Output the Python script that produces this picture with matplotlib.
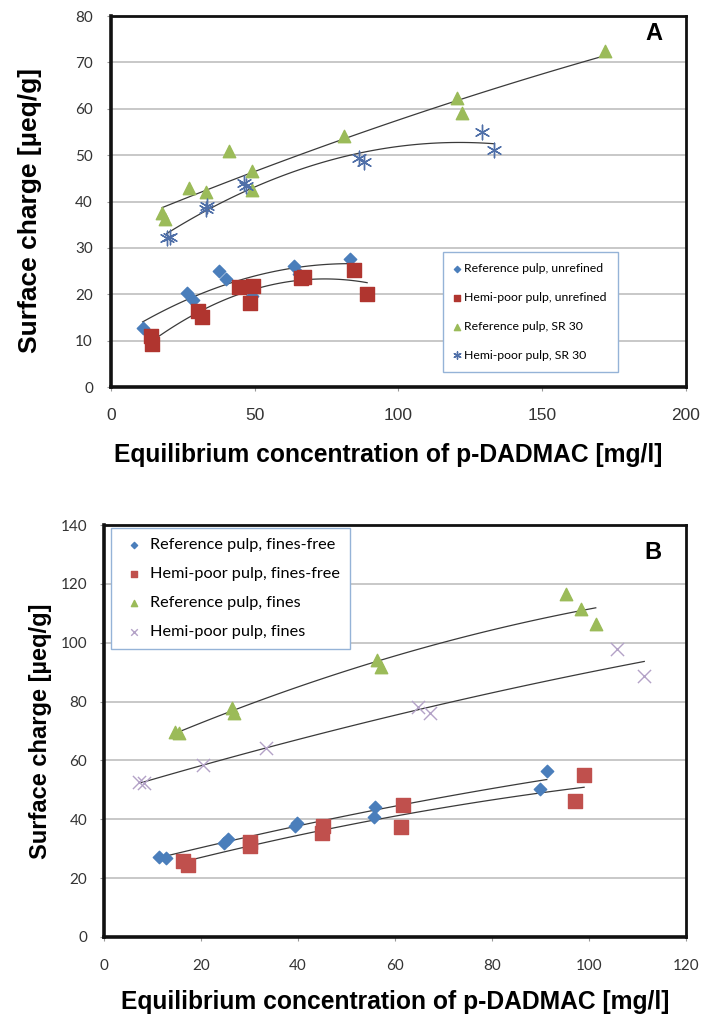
import numpy as np
import matplotlib
matplotlib.use("Agg")
import matplotlib.pyplot as plt

# ---- Panel A data ----
a_ref_unref_x = [11.0, 26.4, 28.5, 37.7, 40.1, 49.0, 63.5, 65.5, 83.0]
a_ref_unref_y = [12.7, 20.2, 18.8, 25.1, 23.3, 19.7, 26.0, 24.4, 27.7]
a_hemi_unref_x = [13.8, 14.4, 30.1, 31.7, 44.4, 49.4, 48.4, 66.1, 67.2, 84.7, 89.1]
a_hemi_unref_y = [11.0, 9.3, 16.3, 15.0, 21.5, 21.7, 18.2, 23.5, 23.7, 25.3, 20.1]
a_ref_sr_x = [17.8, 18.9, 27.3, 32.9, 41.0, 49.1, 49.0, 80.9, 120.2, 122.0, 171.8]
a_ref_sr_y = [37.5, 36.2, 43.0, 42.0, 50.8, 46.6, 42.5, 54.2, 62.3, 59.2, 72.4]
a_hemi_sr_x = [19.4, 20.6, 32.9, 33.4, 46.3, 47.0, 86.2, 87.9, 128.9, 133.4]
a_hemi_sr_y = [32.1, 32.3, 38.4, 39.0, 44.0, 43.4, 49.4, 48.5, 55.0, 51.2]

# ---- Panel B data ----
b_ref_ff_x = [11.4, 12.8, 24.7, 25.6, 39.4, 39.9, 55.7, 55.9, 89.8, 91.3]
b_ref_ff_y = [27.1, 26.7, 32.0, 33.2, 37.7, 38.8, 40.9, 44.1, 50.2, 56.5]
b_hemi_ff_x = [16.2, 17.4, 30.1, 30.1, 45.2, 45.0, 61.7, 61.3, 97.1, 99.0]
b_hemi_ff_y = [25.9, 24.5, 32.4, 30.9, 37.7, 35.4, 44.9, 37.3, 46.3, 55.0]
b_ref_f_x = [14.6, 15.4, 26.3, 26.8, 56.2, 57.1, 95.2, 98.3, 101.4]
b_ref_f_y = [69.8, 69.4, 77.7, 76.2, 94.1, 91.8, 116.5, 111.3, 106.2]
b_hemi_f_x = [7.3, 8.2, 20.5, 33.5, 64.8, 67.2, 105.8, 111.4]
b_hemi_f_y = [52.8, 52.4, 58.4, 64.1, 78.3, 76.0, 97.8, 88.7]

BLUE = "#4a7ebb"
RED_A = "#b0352f"
RED_B = "#c0504d"
GREEN = "#9bbb59"
STAR = "#4f6fa8"
LILAC = "#b3a2c7"
TICKFONT = ["Lato", "DejaVu Sans"]
LABELFONT = ["Liberation Sans", "DejaVu Sans"]


def trend(ax, x, y):
    x = np.asarray(x); y = np.asarray(y)
    c = np.polyfit(x, y, 2)
    xs = np.linspace(x.min(), x.max(), 100)
    ax.plot(xs, np.polyval(c, xs), color="#3a3a3a", lw=0.9, zorder=3)


def style(ax):
    ax.grid(axis="y", color="#c4c4c4", lw=1.3)
    ax.set_axisbelow(True)
    for k, s in ax.spines.items():
        s.set_linewidth(2.6 if k in ("left", "bottom") else 2)
        s.set_color("#111")
    ax.tick_params(length=3, width=0.8, color="#999", labelcolor="#333")


def ticklabels(ax, xfont, xsize, xpad, ysize, ypad):
    ax.tick_params(axis="x", pad=xpad)
    ax.tick_params(axis="y", pad=ypad)
    for t in ax.get_xticklabels():
        t.set_fontfamily(xfont); t.set_fontsize(xsize)
    for t in ax.get_yticklabels():
        t.set_fontfamily(TICKFONT); t.set_fontsize(ysize)


fig = plt.figure(figsize=(7.05, 10.22), dpi=100)

# Panel A
ax = fig.add_axes([0.1574, 0.6213, 0.8156, 0.363])
style(ax)
ax.scatter(a_ref_unref_x, a_ref_unref_y, marker="D", s=40, color=BLUE, zorder=4,
           label="Reference pulp, unrefined")
ax.scatter(a_hemi_unref_x, a_hemi_unref_y, marker="s", s=90, color=RED_A, zorder=4,
           label="Hemi-poor pulp, unrefined")
ax.scatter(a_ref_sr_x, a_ref_sr_y, marker="^", s=80, color=GREEN, zorder=4,
           label="Reference pulp, SR 30")
ax.scatter(a_hemi_sr_x, a_hemi_sr_y, marker=(6, 2, 0), s=110, color=STAR, lw=1.0, zorder=4,
           label="Hemi-poor pulp, SR 30")
for x, y in [(a_ref_unref_x, a_ref_unref_y), (a_hemi_unref_x, a_hemi_unref_y),
             (a_ref_sr_x, a_ref_sr_y), (a_hemi_sr_x, a_hemi_sr_y)]:
    trend(ax, x, y)
ax.set_xlim(0, 200)
ax.set_ylim(0, 80)
ax.set_xticks(np.arange(0, 201, 50))
ax.set_yticks(np.arange(0, 81, 10))
ticklabels(ax, LABELFONT, 12.5, 12, 11, 10)
ax.set_xlabel("Equilibrium concentration of p-DADMAC [mg/l]", fontsize=17.7,
              fontweight="bold", family=LABELFONT)
ax.set_ylabel("Surface charge [µeq/g]", fontsize=19, fontweight="bold", family=LABELFONT)
ax.xaxis.set_label_coords(0.482, -0.151)
ax.yaxis.set_label_coords(-0.12, 0.477)
ax.text(0.944, 0.954, "A", transform=ax.transAxes, fontsize=17, fontweight="bold",
        family=LABELFONT, ha="center", va="center")
leg = ax.legend(loc="lower left", bbox_to_anchor=(0.577, 0.04),
                prop={"family": TICKFONT, "size": 8.8},
                frameon=True, fancybox=False, edgecolor="#95b3d7", framealpha=1,
                handletextpad=0.3, labelspacing=1.45, borderpad=0.95,
                markerscale=0.5, handlelength=0.5, borderaxespad=0)
leg.get_frame().set_linewidth(1)

# Panel B
ax = fig.add_axes([0.1475, 0.0832, 0.8255, 0.4031])
style(ax)
ax.scatter(b_ref_ff_x, b_ref_ff_y, marker="D", s=40, color=BLUE, zorder=4,
           label="Reference pulp, fines-free")
ax.scatter(b_hemi_ff_x, b_hemi_ff_y, marker="s", s=90, color=RED_B, zorder=4,
           label="Hemi-poor pulp, fines-free")
ax.scatter(b_ref_f_x, b_ref_f_y, marker="^", s=80, color=GREEN, zorder=4,
           label="Reference pulp, fines")
ax.scatter(b_hemi_f_x, b_hemi_f_y, marker="x", s=90, color=LILAC, lw=1.0, zorder=4,
           label="Hemi-poor pulp, fines")
for x, y in [(b_ref_ff_x, b_ref_ff_y), (b_hemi_ff_x, b_hemi_ff_y),
             (b_ref_f_x, b_ref_f_y), (b_hemi_f_x, b_hemi_f_y)]:
    trend(ax, x, y)
ax.set_xlim(0, 120)
ax.set_ylim(0, 140)
ax.set_xticks(np.arange(0, 121, 20))
ax.set_yticks(np.arange(0, 141, 20))
ticklabels(ax, TICKFONT, 11, 13, 11, 9)
ax.set_xlabel("Equilibrium concentration of p-DADMAC [mg/l]", fontsize=17.7,
              fontweight="bold", family=LABELFONT)
ax.set_ylabel("Surface charge [µeq/g]", fontsize=17, fontweight="bold", family=LABELFONT)
ax.xaxis.set_label_coords(0.5, -0.129)
ax.yaxis.set_label_coords(-0.089, 0.5)
ax.text(0.943, 0.934, "B", transform=ax.transAxes, fontsize=17, fontweight="bold",
        family=LABELFONT, ha="center", va="center")
leg = ax.legend(loc="upper left", bbox_to_anchor=(0.012, 0.993),
                prop={"family": TICKFONT, "size": 11.7},
                frameon=True, fancybox=False, edgecolor="#95b3d7", framealpha=1,
                handletextpad=0.2, labelspacing=0.9, borderpad=0.6,
                markerscale=0.5, handlelength=1.6, borderaxespad=0)
leg.get_frame().set_linewidth(1)

fig.savefig("out.png", dpi=100, facecolor="white")
